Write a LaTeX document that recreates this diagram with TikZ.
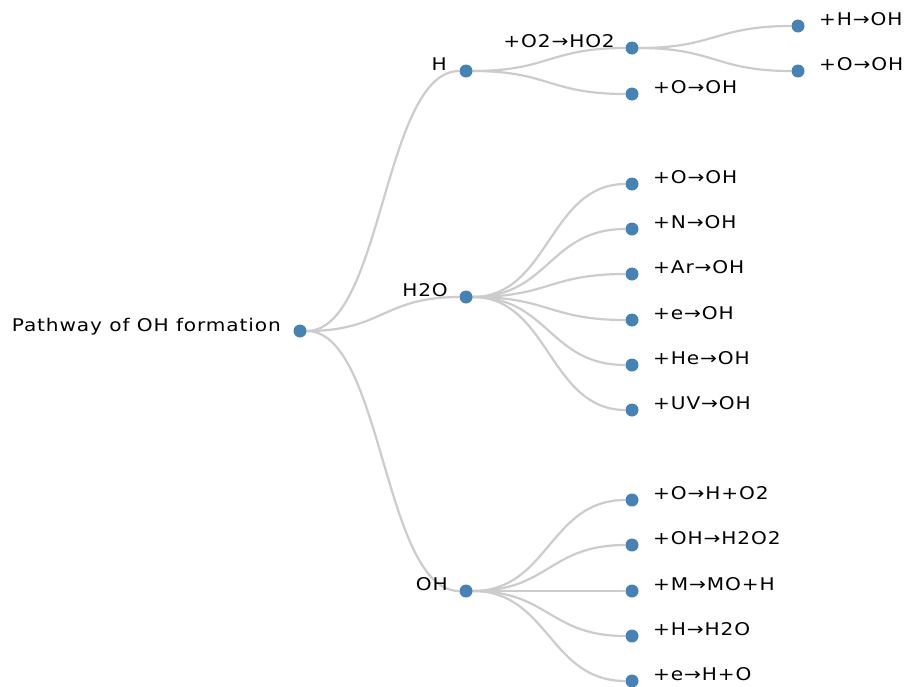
\documentclass[tikz,border=0pt]{standalone}
\usepackage{fontspec}
\setmainfont[LetterSpace=5,FakeStretch=1.15]{DejaVu Sans}
\usetikzlibrary{calc,backgrounds}
\definecolor{dotblue}{HTML}{4682B4}
\definecolor{linkgray}{HTML}{CCCCCC}

\begin{document}
\begin{tikzpicture}[x=1pt,y=-1pt,
    dot/.style={circle,fill=dotblue,inner sep=0pt,minimum size=13pt},
    lbl/.style={inner sep=0pt,font=\fontsize{17.5}{21}\selectfont},
    rlbl/.style={lbl,anchor=base west},
    llbl/.style={lbl,anchor=base east},
    link/.style={draw=linkgray,line width=2.2pt,
        to path={let \p1=(\tikztostart), \p2=(\tikztotarget) in
            .. controls ({0.5*\x1+0.5*\x2},\y1) and ({0.5*\x1+0.5*\x2},\y2) .. (\tikztotarget)}}]
    \useasboundingbox (0,0) rectangle (911,686);

    % tree nodes
    \node[dot] (root) at (300,331) {};
    \node[dot] (h)    at (466,71) {};
    \node[dot] (hw)   at (466,297) {};
    \node[dot] (oh)   at (466,591) {};

    \node[dot] (ho2)  at (632,48) {};
    \node[dot] (ho)   at (632,94) {};
    \node[dot] (hoh)  at (798,26) {};
    \node[dot] (hoo)  at (798,71) {};

    \node[dot] (w1) at (632,184) {};
    \node[dot] (w2) at (632,229) {};
    \node[dot] (w3) at (632,274) {};
    \node[dot] (w4) at (632,320) {};
    \node[dot] (w5) at (632,365) {};
    \node[dot] (w6) at (632,410) {};

    \node[dot] (o1) at (632,500) {};
    \node[dot] (o2) at (632,545) {};
    \node[dot] (o3) at (632,591) {};
    \node[dot] (o4) at (632,636) {};
    \node[dot] (o5) at (632,681) {};

    % links
    \begin{scope}[on background layer]
        \draw[link] (root) to (h);
        \draw[link] (root) to (hw);
        \draw[link] (root) to (oh);
        \draw[link] (h) to (ho2);
        \draw[link] (h) to (ho);
        \draw[link] (ho2) to (hoh);
        \draw[link] (ho2) to (hoo);
        \draw[link] (hw) to (w1);
        \draw[link] (hw) to (w2);
        \draw[link] (hw) to (w3);
        \draw[link] (hw) to (w4);
        \draw[link] (hw) to (w5);
        \draw[link] (hw) to (w6);
        \draw[link] (oh) to (o1);
        \draw[link] (oh) to (o2);
        \draw[link] (oh) to (o3);
        \draw[link] (oh) to (o4);
        \draw[link] (oh) to (o5);
    \end{scope}

    % labels of inner nodes
    \node[llbl] (t-root) at ([xshift=-19pt]root.center) {Pathway of OH formation};
    \node[llbl] (t-h)    at ([xshift=-19pt,yshift=1pt]h.center) {H};
    \node[llbl] (t-hw)   at ([xshift=-18pt,yshift=1pt]hw.center) {H2O};
    \node[llbl] (t-oh)   at ([xshift=-18pt,yshift=1pt]oh.center) {OH};
    \node[llbl] (t-ho2)  at ([xshift=-17pt,yshift=1pt]ho2.center) {+O2→HO2};

    % labels of leaves
    \node[rlbl] (t-ho)  at ([xshift=21pt,yshift=1pt]ho.center) {+O→OH};
    \node[rlbl] (t-hoh) at ([xshift=21pt,yshift=1pt]hoh.center) {+H→OH};
    \node[rlbl] (t-hoo) at ([xshift=21pt,yshift=1pt]hoo.center) {+O→OH};
    \node[rlbl] (t-w1) at ([xshift=21pt,yshift=1pt]w1.center) {+O→OH};
    \node[rlbl] (t-w2) at ([xshift=21pt,yshift=1pt]w2.center) {+N→OH};
    \node[rlbl] (t-w3) at ([xshift=21pt,yshift=1pt]w3.center) {+Ar→OH};
    \node[rlbl] (t-w4) at ([xshift=21pt,yshift=1pt]w4.center) {+e→OH};
    \node[rlbl] (t-w5) at ([xshift=21pt,yshift=1pt]w5.center) {+He→OH};
    \node[rlbl] (t-w6) at ([xshift=21pt,yshift=1pt]w6.center) {+UV→OH};
    \node[rlbl] (t-o1) at ([xshift=21pt,yshift=1pt]o1.center) {+O→H+O2};
    \node[rlbl] (t-o2) at ([xshift=21pt,yshift=1pt]o2.center) {+OH→H2O2};
    \node[rlbl] (t-o3) at ([xshift=21pt,yshift=1pt]o3.center) {+M→MO+H};
    \node[rlbl] (t-o4) at ([xshift=21pt,yshift=1pt]o4.center) {+H→H2O};
    \node[rlbl] (t-o5) at ([xshift=21pt,yshift=1pt]o5.center) {+e→H+O};
\end{tikzpicture}
\end{document}
